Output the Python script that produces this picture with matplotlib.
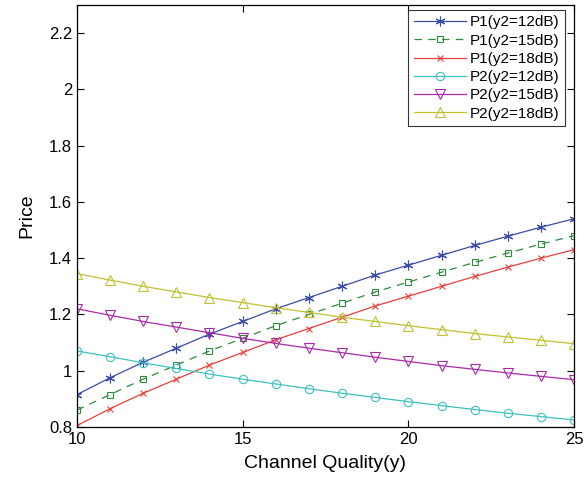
import matplotlib
matplotlib.use("Agg")
import matplotlib.pyplot as plt

x = list(range(10, 26))
p1_12 = [0.915, 0.975, 1.03, 1.08, 1.13, 1.175, 1.22, 1.26, 1.30, 1.34, 1.375, 1.41, 1.445, 1.478, 1.51, 1.54]
p1_15 = [0.86, 0.915, 0.97, 1.02, 1.07, 1.115, 1.16, 1.20, 1.24, 1.28, 1.315, 1.35, 1.385, 1.418, 1.45, 1.48]
p1_18 = [0.805, 0.865, 0.92, 0.97, 1.02, 1.065, 1.11, 1.15, 1.19, 1.23, 1.265, 1.30, 1.335, 1.368, 1.40, 1.43]
p2_12 = [1.07, 1.05, 1.028, 1.008, 0.988, 0.97, 0.953, 0.936, 0.92, 0.905, 0.89, 0.876, 0.862, 0.849, 0.837, 0.825]
p2_15 = [1.22, 1.197, 1.175, 1.155, 1.135, 1.115, 1.097, 1.08, 1.064, 1.048, 1.033, 1.018, 1.005, 0.992, 0.98, 0.968]
p2_18 = [1.345, 1.322, 1.30, 1.28, 1.26, 1.242, 1.224, 1.207, 1.19, 1.175, 1.16, 1.146, 1.132, 1.12, 1.108, 1.096]
labels = ["P1(y2=12dB)", "P1(y2=15dB)", "P1(y2=18dB)", "P2(y2=12dB)", "P2(y2=15dB)", "P2(y2=18dB)"]
xticks = [10, 15, 20, 25]
yticks = [0.8, 1, 1.2, 1.4, 1.6, 1.8, 2, 2.2]
ytick_labels = ["0.8", "1", "1.2", "1.4", "1.6", "1.8", "2", "2.2"]

plt.rcParams['font.family'] = ['Liberation Sans', 'DejaVu Sans']
fig = plt.figure(figsize=(5.87, 4.88), dpi=100)
ax = fig.add_axes([0.131, 0.125, 0.847, 0.865])

series = [p1_12, p1_15, p1_18, p2_12, p2_15, p2_18]
colors = ['#3b4ca8', '#2e8b3e', '#e8403a', '#3fc0c0', '#a82aa8', '#c0c030']
markers = [(6, 2, 0), 's', 'x', 'o', 'v', '^']
styles = ['-', (0, (6, 5)), '-', '-', '-', '-']
msizes = [7, 5, 5, 6, 7, 7]
for ys, c, m, ls, lab, ms in zip(series, colors, markers, styles, labels, msizes):
    ax.plot(x, ys, color=c, marker=m, linestyle=ls, linewidth=0.9, markersize=ms,
            markerfacecolor='none', markeredgewidth=0.8, label=lab)

ax.set_xlim(10, 25)
ax.set_ylim(0.8, 2.3)
ax.set_xticks(xticks)
ax.set_yticks(yticks)
ax.set_yticklabels(ytick_labels)
ax.tick_params(direction='in', top=True, right=True, labelsize=12, length=5, width=0.8)
ax.set_xlabel("Channel Quality(y)", fontsize=14, labelpad=6)
ax.set_ylabel("Price", fontsize=14, labelpad=10)
for s in ax.spines.values():
    s.set_linewidth(0.9)
leg = ax.legend(loc='upper right', fontsize=11, frameon=True, fancybox=False, edgecolor='black',
                handlelength=3.4, borderpad=0.35, labelspacing=0.28, handletextpad=0.3,
                borderaxespad=0, bbox_to_anchor=(0.982, 0.988))
leg.get_frame().set_linewidth(0.8)
fig.savefig("out.png", dpi=100)
